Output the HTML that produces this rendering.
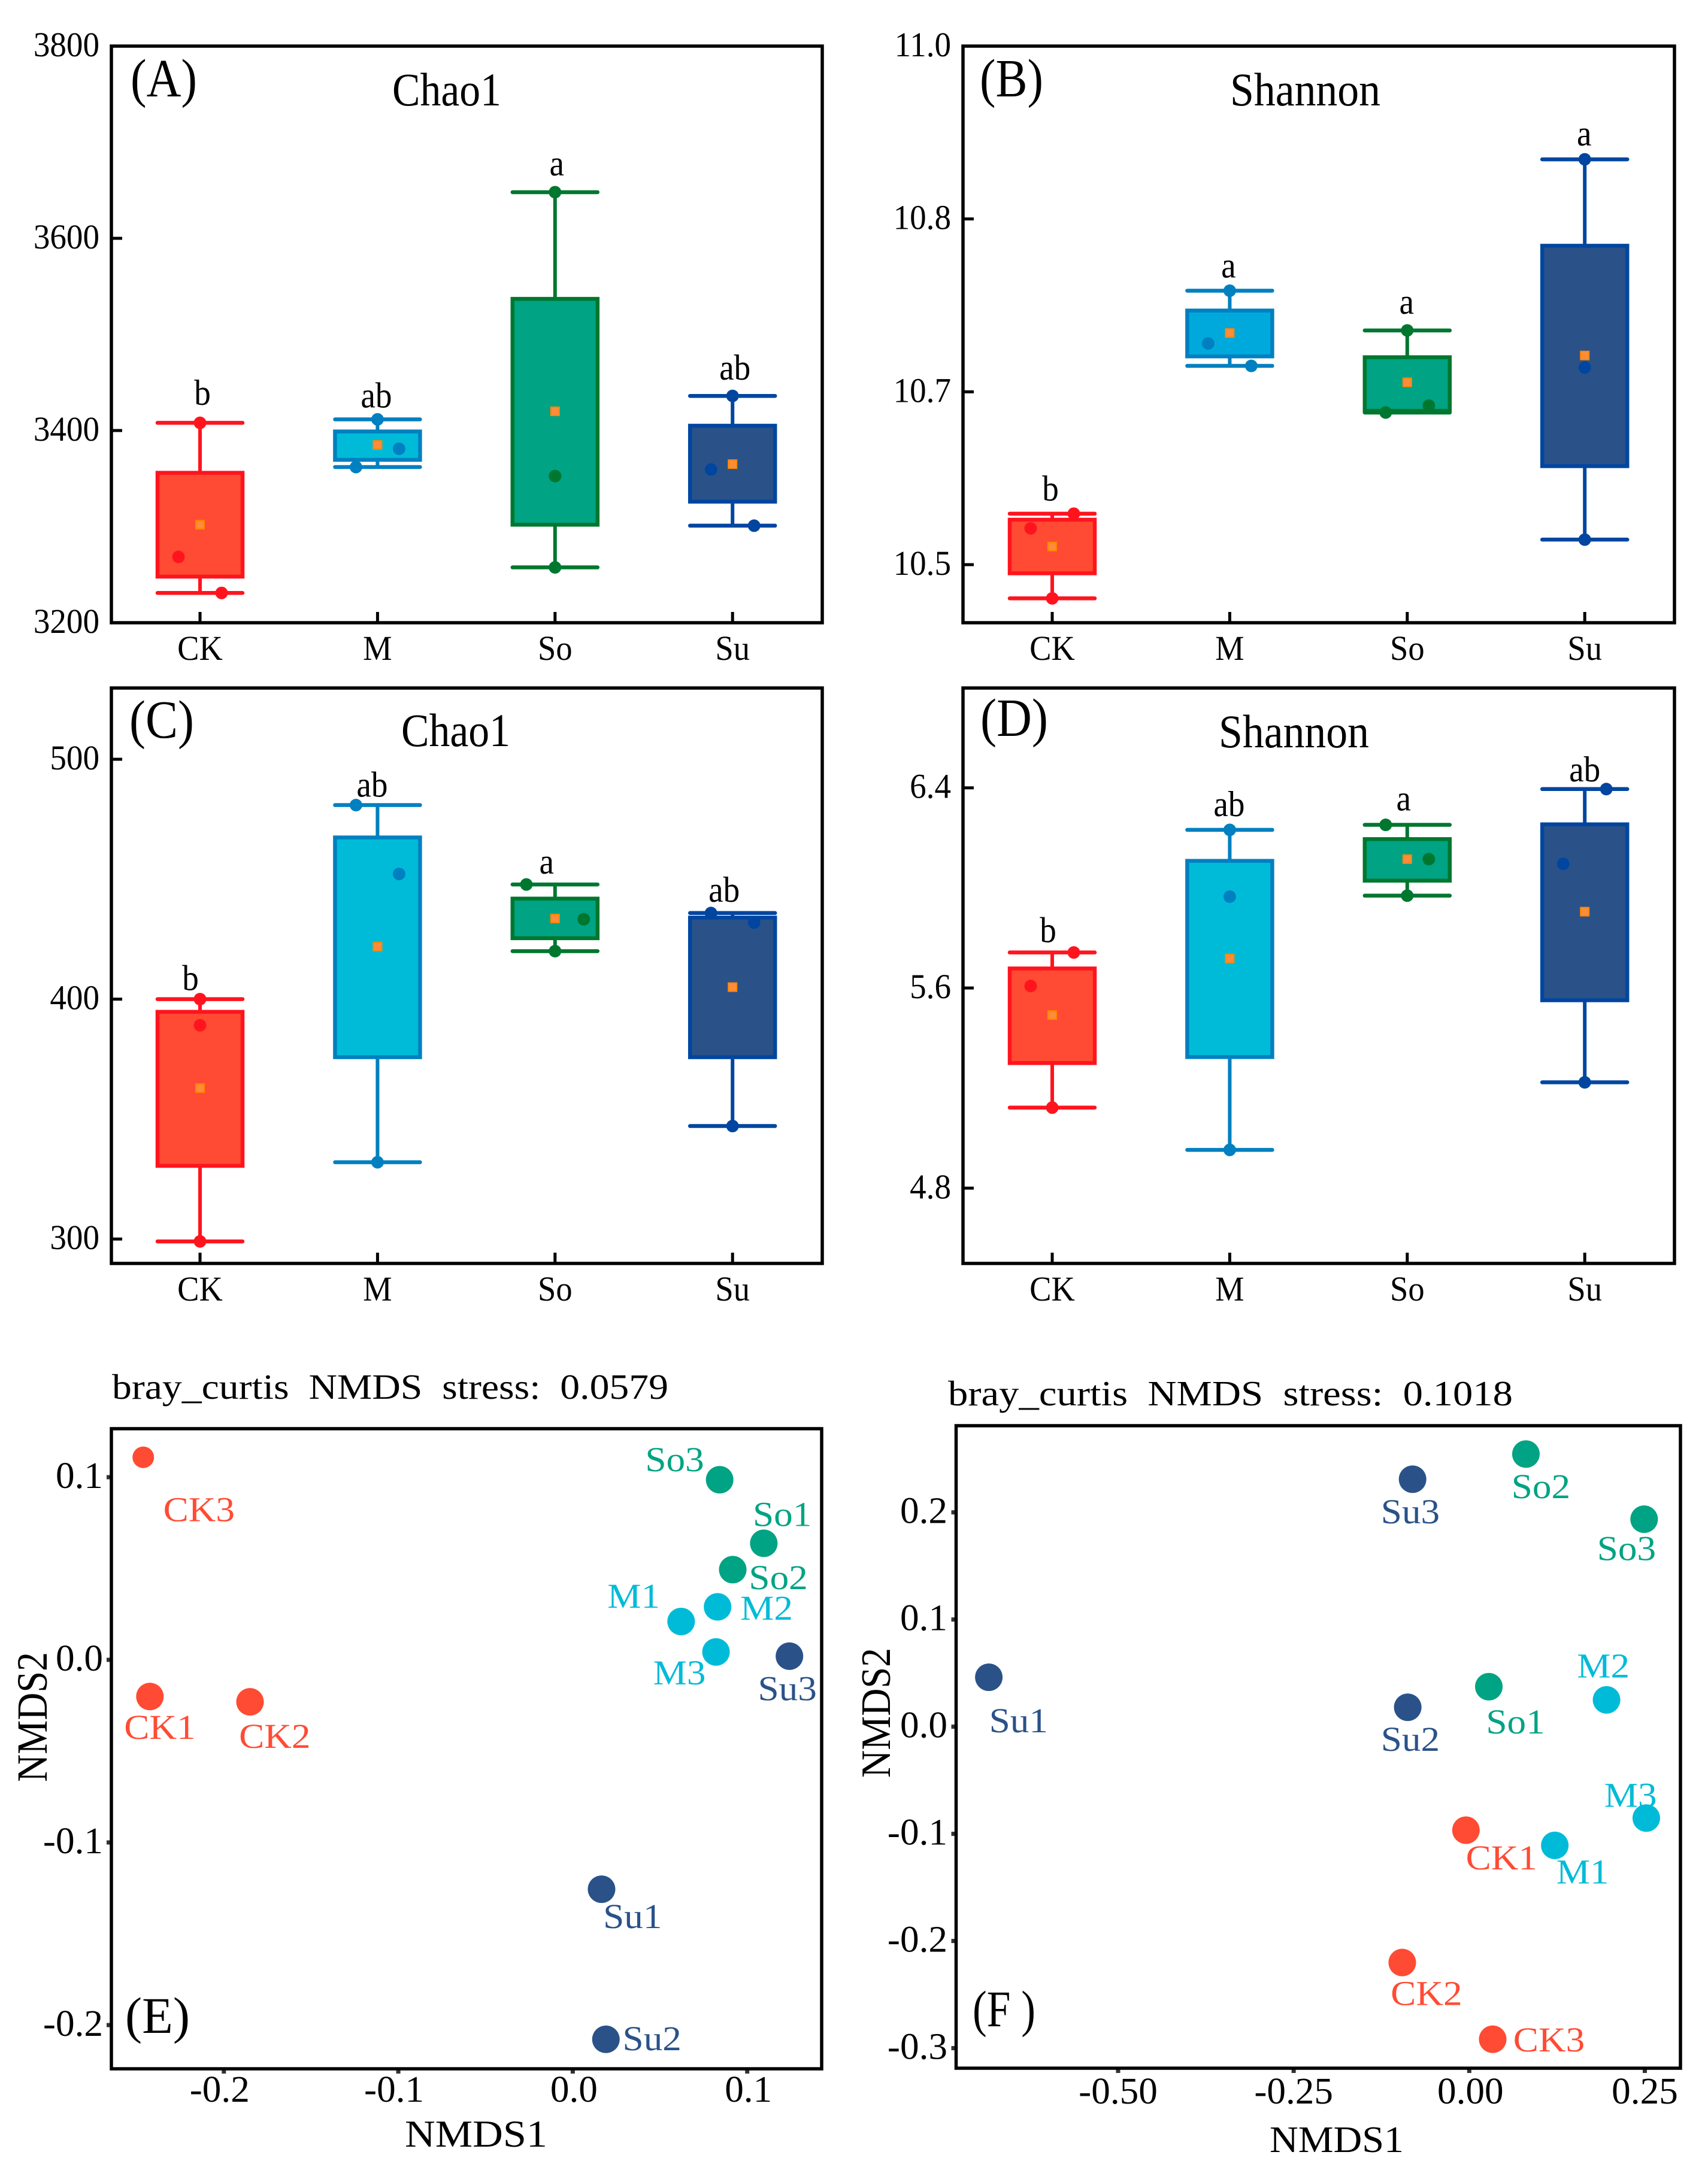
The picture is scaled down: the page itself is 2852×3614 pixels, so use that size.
<!DOCTYPE html>
<html lang="en">
<head>
<meta charset="utf-8">
<title>Alpha diversity box plots and NMDS ordinations</title>
<style>
html,body{margin:0;padding:0;background:#fff;}
svg{display:block;font-family:"Liberation Serif","Times New Roman",serif;}
text{white-space:pre;fill:#000;}
.frame{fill:none;stroke:#000;stroke-width:5.5;}
</style>
</head>
<body>
<svg id="figure" xmlns="http://www.w3.org/2000/svg" width="2852" height="3614" viewBox="0 0 2852 3614">
<rect x="0" y="0" width="2852" height="3614" fill="#fff"/>

<g id="panel-a">
<text x="218" y="161" font-size="90" textLength="111" lengthAdjust="spacingAndGlyphs">(A)</text>
<text x="655" y="176" font-size="78" textLength="182" lengthAdjust="spacingAndGlyphs">Chao1</text>
</g>
<g id="panel-b">
<text x="1636" y="161" font-size="90" textLength="106" lengthAdjust="spacingAndGlyphs">(B)</text>
<text x="2054" y="176" font-size="78" textLength="251" lengthAdjust="spacingAndGlyphs">Shannon</text>
</g>
<g id="panel-c">
<text x="216" y="1232" font-size="90" textLength="108" lengthAdjust="spacingAndGlyphs">(C)</text>
<text x="670" y="1246" font-size="78" textLength="182" lengthAdjust="spacingAndGlyphs">Chao1</text>
</g>
<g id="panel-d">
<text x="1637" y="1229" font-size="90" textLength="113" lengthAdjust="spacingAndGlyphs">(D)</text>
<text x="2035" y="1248" font-size="78" textLength="251" lengthAdjust="spacingAndGlyphs">Shannon</text>
</g>
<g id="panel-e">
<text x="187" y="2336" font-size="59" textLength="929" lengthAdjust="spacingAndGlyphs">bray_curtis  NMDS  stress:  0.0579</text>
<text x="209" y="3395" font-size="86" textLength="108" lengthAdjust="spacingAndGlyphs">(E)</text>
<text x="676" y="3585" font-size="63" textLength="238" lengthAdjust="spacingAndGlyphs">NMDS1</text>
<text transform="translate(78,2976) rotate(-90)" font-size="72" textLength="217" lengthAdjust="spacingAndGlyphs">NMDS2</text>
</g>
<g id="panel-f">
<text x="1583" y="2347" font-size="59" textLength="943" lengthAdjust="spacingAndGlyphs">bray_curtis  NMDS  stress:  0.1018</text>
<text x="1624" y="3384" font-size="86" textLength="105" lengthAdjust="spacingAndGlyphs">(F )</text>
<text x="2120" y="3594" font-size="62" textLength="224" lengthAdjust="spacingAndGlyphs">NMDS1</text>
<text transform="translate(1486,2969) rotate(-90)" font-size="70" textLength="217" lengthAdjust="spacingAndGlyphs">NMDS2</text>
</g>
</svg>

<script>
// ---------- shared data ----------
const categories = ['CK', 'M', 'So', 'Su'];

// ---------- Panel A: Chao1 ----------
const aTickValues = [3200, 3400, 3600, 3800];
const aTickLabels = ['3200', '3400', '3600', '3800'];
const aWhiskerHigh = [3408, 3411.6, 3648, 3436];
const aBoxTop = [3356, 3399, 3537, 3405];
const aBoxBottom = [3248, 3369.5, 3302, 3326];
const aWhiskerLow = [3231, 3362, 3257.6, 3301];
const aMeans = [3302, 3385, 3420, 3365];
const aSamples = [[3268.5, 3408, 3231], [3362, 3411.6, 3381], [3648, 3352.6, 3257.6], [3359.5, 3436, 3301]];
const aLetters = ['b', 'ab', 'a', 'ab'];

// ---------- Panel B: Shannon ----------
const bTickValues = [10.4, 10.6, 10.8, 11.0];
const bTickLabels = ['10.5', '10.7', '10.8', '11.0'];
const bWhiskerHigh = [10.459, 10.717, 10.671, 10.869];
const bBoxTop = [10.452, 10.694, 10.640, 10.769];
const bBoxBottom = [10.390, 10.641, 10.578, 10.514];
const bWhiskerLow = [10.361, 10.630, 10.576, 10.429];
const bMeans = [10.421, 10.668, 10.611, 10.642];
const bSamples = [[10.442, 10.361, 10.459], [10.656, 10.717, 10.630], [10.576, 10.671, 10.584], [10.869, 10.628, 10.429]];
const bLetters = ['b', 'a', 'a', 'a'];

// ---------- Panel C: Chao1 ----------
const cTickValues = [300, 400, 500];
const cTickLabels = ['300', '400', '500'];
const cWhiskerHigh = [400, 480.9, 447.8, 435.9];
const cBoxTop = [394.7, 467.4, 441.9, 434];
const cBoxBottom = [330.5, 375.8, 425.4, 375.8];
const cWhiskerLow = [299, 332, 420, 347.1];
const cMeans = [362.9, 421.9, 433.6, 405];
const cSamples = [[400, 389.1, 299], [480.9, 452.2, 332], [447.8, 433.3, 420], [435.9, 431.9, 347.1]];
const cLetters = ['b', 'ab', 'a', 'ab'];

// ---------- Panel D: Shannon ----------
const dTickValues = [4.8, 5.6, 6.4];
const dTickLabels = ['4.8', '5.6', '6.4'];
const dWhiskerHigh = [5.742, 6.232, 6.252, 6.395];
const dBoxTop = [5.678, 6.108, 6.195, 6.254];
const dBoxBottom = [5.300, 5.324, 6.029, 5.551];
const dWhiskerLow = [5.122, 4.953, 5.969, 5.223];
const dMeans = [5.492, 5.718, 6.115, 5.905];
const dSamples = [[5.608, 5.122, 5.742], [6.232, 5.965, 4.953], [6.252, 6.115, 5.969], [6.395, 6.096, 5.223]];
const dLetters = ['b', 'ab', 'a', 'ab'];

// ---------- Panel E: NMDS ----------
const eSampleNames = ['CK1', 'CK2', 'CK3', 'M1', 'M2', 'M3', 'So1', 'So2', 'So3', 'Su1', 'Su2', 'Su3'];
const eNmds1 = [-0.2424, -0.1850, -0.2462, 0.0621, 0.0830, 0.0821, 0.1095, 0.0917, 0.0842, 0.0165, 0.0190, 0.1242];
const eNmds2 = [-0.0201, -0.0230, 0.1109, 0.0210, 0.0290, 0.0043, 0.0638, 0.0494, 0.0986, -0.1256, -0.2078, 0.0020];
const eXTicks = [-0.2, -0.1, 0.0, 0.1];
const eXTickLabels = ['-0.2', '-0.1', '0.0', '0.1'];
const eYTicks = [-0.2, -0.1, 0.0, 0.1];
const eYTickLabels = ['-0.2', '-0.1', '0.0', '0.1'];

// ---------- Panel F: NMDS ----------
const fSampleNames = ['CK1', 'CK2', 'CK3', 'M1', 'M2', 'M3', 'So1', 'So2', 'So3', 'Su1', 'Su2', 'Su3'];
const fNmds1 = [-0.0047, -0.0954, 0.0334, 0.1218, 0.1955, 0.2521, 0.0279, 0.0807, 0.2490, -0.6841, -0.0876, -0.0807];
const fNmds2 = [-0.0966, -0.2201, -0.2917, -0.1108, 0.0250, -0.0853, 0.0373, 0.2544, 0.1936, 0.0461, 0.0181, 0.2309];
const fXTicks = [-0.5, -0.25, 0.0, 0.25];
const fXTickLabels = ['-0.50', '-0.25', '0.00', '0.25'];
const fYTicks = [-0.3, -0.2, -0.1, 0.0, 0.1, 0.2];
const fYTickLabels = ['-0.3', '-0.2', '-0.1', '0.0', '0.1', '0.2'];

// ---------- layout (not data) ----------
const SVGNS = 'http://www.w3.org/2000/svg';
const fills = {CK: '#FF4B33', M: '#00BBD8', So: '#00A383', Su: '#2A5289'};
const strokes = {CK: '#FF141E', M: '#0080C0', So: '#00772F', Su: '#0046A0'};

function add(parent, tag, attrs) {
  const node = document.createElementNS(SVGNS, tag);
  for (const key in attrs) node.setAttribute(key, attrs[key]);
  parent.appendChild(node);
  return node;
}
function addText(parent, x, y, str, size, anchor, stretch, color) {
  const node = add(parent, 'text', {
    transform: 'translate(' + x + ',' + y + ') scale(' + stretch + ',1)',
    'font-size': size,
    'text-anchor': anchor
  });
  if (color) node.style.fill = color;
  node.textContent = str;
  return node;
}
function linear(d0, d1, r0, r1) {
  return function (v) { return r0 + (v - d0) * (r1 - r0) / (d1 - d0); };
}
function groupOf(sample) { return sample.replace(/[0-9]/g, ''); }

function drawBoxPanel(p) {
  const root = document.getElementById(p.id);
  const y = linear(p.yDomain[0], p.yDomain[1], p.yRange[0], p.yRange[1]);
  const xAt = function (i) { return p.xFirst + i * 296.4; };
  const halfBox = 71;

  p.tickValues.forEach(function (v, i) {
    const tick = add(root, 'line', {x1: p.left, x2: p.left + 18, y1: y(v), y2: y(v), stroke: '#000', 'stroke-width': 5});
    
    
    const label = addText(root, p.labelRight, y(v) + 17, p.tickLabels[i], 58, 'end', 0.95);
    
    
  });

  categories.forEach(function (cat, i) {
    const cx = xAt(i);
    const fill = (p.id === 'panel-b' && cat === 'M') ? '#00A9DC' : fills[cat];
    const stroke = strokes[cat];

    const tick = add(root, 'line', {x1: cx, x2: cx, y1: p.bottom, y2: p.bottom - 18, stroke: '#000', 'stroke-width': 5});
    
    
    const catLabel = addText(root, cx, p.catBaseline, cat, 58, 'middle', 0.94);
    
    

    const stem = add(root, 'line', {x1: cx, x2: cx, y1: y(p.high[i]), y2: y(p.low[i]), stroke: stroke, 'stroke-width': 6});
    
    
    const capHigh = add(root, 'line', {x1: cx - 71, x2: cx + 71, y1: y(p.high[i]), y2: y(p.high[i]), stroke: stroke, 'stroke-width': 6.5, 'stroke-linecap': 'round'});
    
    
    const capLow = add(root, 'line', {x1: cx - 71, x2: cx + 71, y1: y(p.low[i]), y2: y(p.low[i]), stroke: stroke, 'stroke-width': 6.5, 'stroke-linecap': 'round'});
    
    

    const box = add(root, 'rect', {
      x: cx - halfBox, y: y(p.top[i]), width: 2 * halfBox, height: y(p.bottom_[i]) - y(p.top[i]),
      fill: fill, stroke: stroke, 'stroke-width': 6.5
    });
    
    

    p.samples[i].forEach(function (v, j) {
      const dot = add(root, 'circle', {cx: cx + p.slots[i][j] * 36, cy: y(v), r: 10.5, fill: stroke});
      
      
    });

    const mean = add(root, 'rect', {
      x: cx - 7, y: y(p.means[i]) - 7, width: 14, height: 14,
      fill: '#FF8C3A', stroke: '#FF8800', 'stroke-width': 2
    });
    
    

    const sig = addText(root, cx + p.letterShift[i][0], y(p.high[i]) - p.letterShift[i][1], p.letters[i], 60, 'middle', 0.92);
    
    
  });

  const frame = add(root, 'rect', {x: p.left, y: p.top_, width: p.right - p.left, height: p.bottom - p.top_, 'class': 'frame'});
  
  
}

function drawScatterPanel(p) {
  const root = document.getElementById(p.id);
  const x = linear(p.xRef[0], p.xRef[1], p.xPix[0], p.xPix[1]);
  const y = linear(p.yRef[0], p.yRef[1], p.yPix[0], p.yPix[1]);

  p.xTicks.forEach(function (v, i) {
    const tick = add(root, 'line', {x1: x(v), x2: x(v), y1: p.bottom, y2: p.bottom + 8, stroke: '#333', 'stroke-width': 7});
    
    
    const label = addText(root, x(v) + p.xLabelShift(v), p.xLabelBaseline, p.xLabels[i], 62, 'middle', 1.02);
    
    
  });
  p.yTicks.forEach(function (v, i) {
    const tick = add(root, 'line', {x1: p.left - 8, x2: p.left, y1: y(v), y2: y(v), stroke: '#333', 'stroke-width': 7});
    
    
    const label = addText(root, p.yLabelRight, y(v) + 18, p.yLabels[i], 62, 'end', 1.02);
    
    
  });

  p.names.forEach(function (sample, i) {
    const group = groupOf(sample);
    const radius = (p.id === 'panel-e' && sample === 'CK3') ? 18 : 23;
    const point = add(root, 'circle', {cx: x(p.xs[i]), cy: y(p.ys[i]), r: radius, fill: fills[group]});
    
    
    const off = p.labelOffsets[sample];
    const label = addText(root, x(p.xs[i]) + off[0] - 2, y(p.ys[i]) + off[1], sample, 58, 'start', 1.09, fills[group]);
    
    
  });

  const frame = add(root, 'rect', {x: p.left, y: p.top_, width: p.right - p.left, height: p.bottom - p.top_, 'class': 'frame'});
  
  
}

drawBoxPanel({
  id: 'panel-a', left: 186, right: 1373, top_: 77, bottom: 1040, xFirst: 334, labelRight: 166, catBaseline: 1102,
  yDomain: [3200, 3800], yRange: [1040, 77],
  tickValues: aTickValues, tickLabels: aTickLabels,
  high: aWhiskerHigh, top: aBoxTop, bottom_: aBoxBottom, low: aWhiskerLow, means: aMeans, samples: aSamples, letters: aLetters,
  slots: [[-1, 0, 1], [-1, 0, 1], [0, 0, 0], [-1, 0, 1]],
  letterShift: [[4, 30], [-2, 20], [3, 28], [4, 27]]
});
drawBoxPanel({
  id: 'panel-b', left: 1608, right: 2796, top_: 77, bottom: 1040, xFirst: 1757, labelRight: 1588, catBaseline: 1102,
  yDomain: [10.4, 11.0], yRange: [943, 77],
  tickValues: bTickValues, tickLabels: bTickLabels,
  high: bWhiskerHigh, top: bBoxTop, bottom_: bBoxBottom, low: bWhiskerLow, means: bMeans, samples: bSamples, letters: bLetters,
  slots: [[-1, 0, 1], [-1, 0, 1], [-1, 0, 1], [0, 0, 0]],
  letterShift: [[-3, 22], [-2, 22], [-1, 28], [-1, 23]]
});
drawBoxPanel({
  id: 'panel-c', left: 186, right: 1373, top_: 1149, bottom: 2110, xFirst: 334, labelRight: 166, catBaseline: 2172,
  yDomain: [300, 500], yRange: [2069.2, 1268],
  tickValues: cTickValues, tickLabels: cTickLabels,
  high: cWhiskerHigh, top: cBoxTop, bottom_: cBoxBottom, low: cWhiskerLow, means: cMeans, samples: cSamples, letters: cLetters,
  slots: [[0, 0, 0], [-1, 1, 0], [-1.33, 1.33, 0], [-1, 1, 0]],
  letterShift: [[-16, 15], [-9, 14], [-14, 18], [-14, 19]]
});
drawBoxPanel({
  id: 'panel-d', left: 1608, right: 2796, top_: 1149, bottom: 2110, xFirst: 1757, labelRight: 1588, catBaseline: 2172,
  yDomain: [4.8, 6.4], yRange: [1984.3, 1315.7],
  tickValues: dTickValues, tickLabels: dTickLabels,
  high: dWhiskerHigh, top: dBoxTop, bottom_: dBoxBottom, low: dWhiskerLow, means: dMeans, samples: dSamples, letters: dLetters,
  slots: [[-1, 0, 1], [0, 0, 0], [-1, 1, 0], [1, -1, 0]],
  letterShift: [[-7, 17], [-1, 23], [-6, 24], [0, 13]]
});

drawScatterPanel({
  id: 'panel-e', left: 186, right: 1372, top_: 2386, bottom: 3455,
  xRef: [-0.2, 0.1], xPix: [373.8, 1247.7], yRef: [0.1, -0.2], yPix: [2467, 3382],
  xTicks: eXTicks, xLabels: eXTickLabels, yTicks: eYTicks, yLabels: eYTickLabels,
  xLabelBaseline: 3510, yLabelRight: 172,
  xLabelShift: function (v) { return v < 0 ? -7 : 2; },
  names: eSampleNames, xs: eNmds1, ys: eNmds2,
  labelOffsets: {
    CK3: [35.4, 106.9], CK1: [-41.1, 70.7], CK2: [-16.4, 76.9],
    So3: [-122.3, -14.4], So1: [-16.4, -28.9], So2: [28.9, 32.5],
    M1: [-121, -23], M2: [40, 21.5], M3: [-102.9, 54.2],
    Su3: [-50.7, 73.7], Su1: [4.6, 65], Su2: [29.8, 18.3]
  }
});
drawScatterPanel({
  id: 'panel-f', left: 1596.5, right: 2806, top_: 2381, bottom: 3454,
  xRef: [-0.5, 0.25], xPix: [1867, 2746.5], yRef: [0.2, -0.3], yPix: [2525.7, 3420.5],
  xTicks: fXTicks, xLabels: fXTickLabels, yTicks: fYTicks, yLabels: fYTickLabels,
  xLabelBaseline: 3513, yLabelRight: 1582,
  xLabelShift: function (v) { return v === 0 ? 2 : 0; },
  names: fSampleNames, xs: fNmds1, ys: fNmds2,
  labelOffsets: {
    Su1: [2.5, 92.1], Su3: [-51, 73.5], Su2: [-42.9, 72.7],
    So2: [-22.2, 73.6], So3: [-76.6, 68.4], So1: [-2.7, 78],
    M2: [-47.3, -37.6], M3: [-68.2, -18.8], M1: [4.6, 63.6],
    CK1: [1.8, 65.7], CK2: [-17.3, 71], CK3: [36.3, 20.2]
  }
});
</script>
</body>
</html>
